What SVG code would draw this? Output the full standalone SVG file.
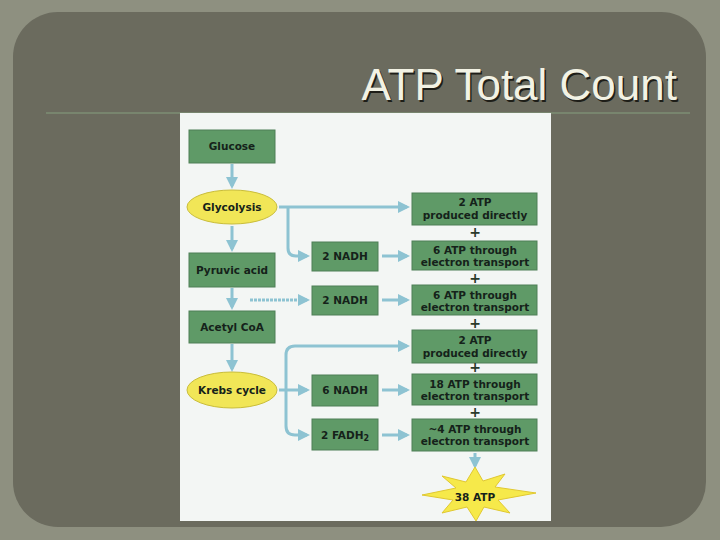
<svg xmlns="http://www.w3.org/2000/svg" width="720" height="540" viewBox="0 0 720 540">
<defs>
<style>
.box{fill:#5f9a67;stroke:#4e7f56;stroke-width:1}
.ell{fill:#f1e657;stroke:#c9bd3a;stroke-width:1}
.t{font-family:"DejaVu Sans",sans-serif;font-weight:bold;font-size:10.5px;fill:#15221a;text-anchor:middle}
.c{fill:none;stroke:#8dc3d2;stroke-width:3}
.plus{font-family:"DejaVu Sans",sans-serif;font-weight:bold;font-size:14px;fill:#2a3a2a;text-anchor:middle}
.title{font-family:"Liberation Sans",Arial,sans-serif;font-size:44px;text-anchor:end}
</style>
<marker id="a" markerWidth="4" markerHeight="4" refX="3" refY="2" orient="auto" markerUnits="strokeWidth"><path d="M0,0 L4,2 L0,4 Z" fill="#8dc3d2"/></marker>
</defs>
<rect width="720" height="540" fill="#8e9080"/>
<rect x="13" y="12" width="693" height="515" rx="45" fill="#6b6b5e"/>
<line x1="46" y1="113" x2="690" y2="113" stroke="#7d8e74" stroke-width="1.5"/>
<text class="title" x="677" y="100" fill="#1e1e18" transform="translate(1.5,1.5)">ATP Total Count</text>
<text class="title" x="677" y="100" fill="#f2f2e4">ATP Total Count</text>
<rect x="180" y="113" width="371" height="408" fill="#f3f6f4"/>
<g id="connectors">
<path class="c" d="M232,164 V186" marker-end="url(#a)"/>
<path class="c" d="M232,226 V249" marker-end="url(#a)"/>
<path class="c" d="M232,288 V307" marker-end="url(#a)"/>
<path class="c" d="M232,344 V369" marker-end="url(#a)"/>
<path class="c" d="M279,207 H407" marker-end="url(#a)"/>
<path class="c" d="M288,207 V248 Q288,256 296,256 H307" marker-end="url(#a)"/>
<path class="c" d="M250,300 H307" marker-end="url(#a)" stroke-dasharray="3,1"/>
<path class="c" d="M382,256 H407" marker-end="url(#a)"/>
<path class="c" d="M382,300 H407" marker-end="url(#a)"/>
<path class="c" d="M279,390 H307" marker-end="url(#a)"/>
<path class="c" d="M286,390 V355 Q286,346 295,346 H407" marker-end="url(#a)"/>
<path class="c" d="M286,390 V426 Q286,435 295,435 H307" marker-end="url(#a)"/>
<path class="c" d="M382,390 H407" marker-end="url(#a)"/>
<path class="c" d="M382,435 H407" marker-end="url(#a)"/>
<path class="c" d="M475,453 V466" marker-end="url(#a)"/>
</g>
<g id="glucose"><rect class="box" x="189" y="130" width="86" height="33"/><text class="t" x="232" y="150">Glucose</text></g>
<g id="glycolysis"><ellipse class="ell" cx="232" cy="207" rx="45" ry="17"/><text class="t" x="232" y="211">Glycolysis</text></g>
<g id="pyruvic"><rect class="box" x="189" y="253" width="86" height="34"/><text class="t" x="232" y="274">Pyruvic acid</text></g>
<g id="acetyl"><rect class="box" x="189" y="311" width="86" height="32"/><text class="t" x="232" y="331">Acetyl CoA</text></g>
<g id="krebs"><ellipse class="ell" cx="232" cy="390" rx="45" ry="18"/><text class="t" x="232" y="394">Krebs cycle</text></g>
<g id="nadh1"><rect class="box" x="312" y="242" width="66" height="29"/><text class="t" x="345" y="260">2 NADH</text></g>
<g id="nadh2"><rect class="box" x="312" y="286" width="66" height="29"/><text class="t" x="345" y="304">2 NADH</text></g>
<g id="nadh3"><rect class="box" x="312" y="375" width="66" height="31"/><text class="t" x="345" y="394">6 NADH</text></g>
<g id="fadh"><rect class="box" x="312" y="419" width="66" height="31"/><text class="t" x="345" y="439">2 FADH<tspan font-size="8" dy="2">2</tspan></text></g>
<g id="atp1"><rect class="box" x="412" y="193" width="125" height="32"/><text class="t" x="475" y="206">2 ATP</text><text class="t" x="475" y="219">produced directly</text></g>
<g id="atp2"><rect class="box" x="412" y="241" width="125" height="29"/><text class="t" x="475" y="254">6 ATP through</text><text class="t" x="475" y="266">electron transport</text></g>
<g id="atp3"><rect class="box" x="412" y="285" width="125" height="30"/><text class="t" x="475" y="299">6 ATP through</text><text class="t" x="475" y="311">electron transport</text></g>
<g id="atp4"><rect class="box" x="412" y="330" width="125" height="33"/><text class="t" x="475" y="344">2 ATP</text><text class="t" x="475" y="357">produced directly</text></g>
<g id="atp5"><rect class="box" x="412" y="374" width="125" height="31"/><text class="t" x="475" y="388">18 ATP through</text><text class="t" x="475" y="400">electron transport</text></g>
<g id="atp6"><rect class="box" x="412" y="419" width="125" height="32"/><text class="t" x="475" y="433">~4 ATP through</text><text class="t" x="475" y="445">electron transport</text></g>
<g id="plus">
<text class="plus" x="475" y="237">+</text><text class="plus" x="475" y="283">+</text><text class="plus" x="475" y="328">+</text><text class="plus" x="475" y="372">+</text><text class="plus" x="475" y="417">+</text>
</g>
<g id="total">
<polygon fill="#f6e94a" stroke="#e0c830" points="475,467 483,481 505,474 495,487 536,493 498,500 510,513 484,507 476,521 467,507 442,513 453,500 422,495 456,488 442,476 466,482"/>
<text class="t" x="475" y="501">38 ATP</text>
</g>
</svg>
